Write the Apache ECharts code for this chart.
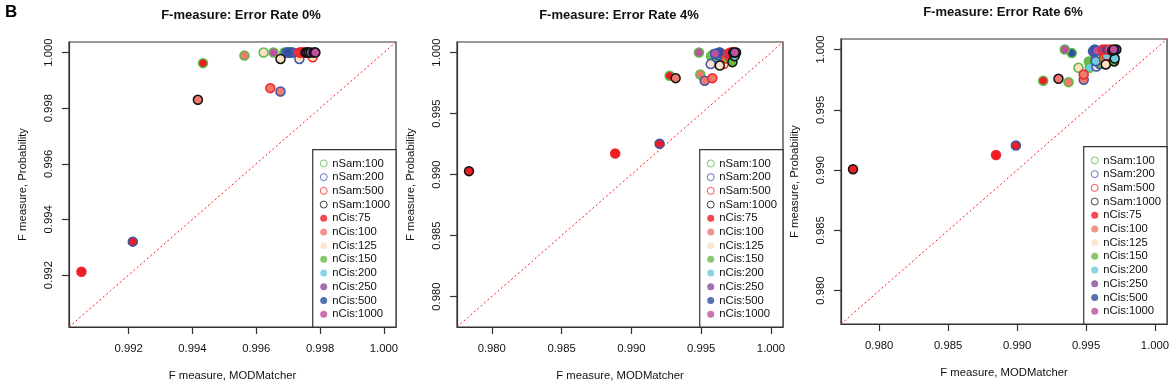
<!doctype html>
<html lang="en">
<head>
<meta charset="UTF-8">
<title>F-measure scatter</title>
<script src="https://cdn.jsdelivr.net/npm/echarts@6.0.0/dist/echarts.min.js"></script>
<style>
  html, body { margin: 0; padding: 0; background: #fff; }
  #main { width: 1169px; height: 391px; }
</style>
</head>
<body>
<div id="main"></div>
<script type="text/javascript">
var FONT = '"Liberation Sans", Arial, Helvetica, sans-serif';

// legend groups
var nSam = ['nSam:100', 'nSam:200', 'nSam:500', 'nSam:1000'];
var samColors = ['#5cb947', '#3b57a8', '#f0262b', '#111111'];
var nCis = ['nCis:75', 'nCis:100', 'nCis:125', 'nCis:150', 'nCis:200', 'nCis:250', 'nCis:500', 'nCis:1000'];
var cisColors = ['#ee1d24', '#f1786c', '#fde0c4', '#6ab945', '#6ccbe0', '#8a4c9f', '#2d4f9e', '#bf4f9f'];

// rows = nSam (100,200,500,1000), columns = nCis (75 ... 1000)
var err0X = [
    [0.99433, 0.99563, 0.99623, 0.99688, 0.99700, 0.99708, 0.99716, 0.99654],
    [0.99213, 0.99676, 0.99735, 0.99695, 0.99705, 0.99712, 0.99700, 0.99785],
    [0.99052, 0.99644, 0.99777, 0.99735, 0.99740, 0.99745, 0.99750, 0.99760],
    [0.99755, 0.99417, 0.99676, 0.99760, 0.99765, 0.99770, 0.99780, 0.99785]
];
var err0Y = [
    [0.99962, 0.99989, 1.00000, 1.00000, 1.00000, 1.00000, 1.00000, 1.00000],
    [0.99320, 0.99860, 0.99977, 1.00000, 1.00000, 1.00000, 1.00000, 1.00000],
    [0.99212, 0.99872, 0.99983, 1.00000, 1.00000, 1.00000, 1.00000, 1.00000],
    [1.00000, 0.99830, 0.99977, 1.00000, 1.00000, 1.00000, 1.00000, 1.00000]
];

var err4X = [
    [0.99274, 0.99494, 0.99570, 0.99580, 0.99585, 0.99600, 0.99620, 0.99484],
    [0.99202, 0.99525, 0.99568, 0.99610, 0.99620, 0.99630, 0.99634, 0.99600],
    [0.98884, 0.99580, 0.99662, 0.99680, 0.99700, 0.99690, 0.99710, 0.99720],
    [0.97837, 0.99317, 0.99633, 0.99724, 0.99740, 0.99730, 0.99750, 0.99740]
];
var err4Y = [
    [0.99809, 0.99820, 0.99970, 0.99960, 0.99985, 0.99990, 0.99990, 1.00000],
    [0.99252, 0.99768, 0.99905, 0.99960, 0.99980, 1.00000, 1.00000, 0.99990],
    [0.99172, 0.99790, 0.99905, 0.99950, 0.99970, 0.99990, 1.00000, 1.00000],
    [0.99028, 0.99790, 0.99893, 0.99921, 0.99970, 1.00000, 1.00000, 1.00000]
];

var err6X = [
    [0.99189, 0.99373, 0.99445, 0.99520, 0.99527, 0.99560, 0.99397, 0.99346],
    [0.98991, 0.99483, 0.99575, 0.99600, 0.99570, 0.99550, 0.99563, 0.99580],
    [0.98847, 0.99483, 0.99643, 0.99630, 0.99650, 0.99620, 0.99645, 0.99671],
    [0.97810, 0.99300, 0.99643, 0.99703, 0.99708, 0.99690, 0.99720, 0.99700]
];
var err6Y = [
    [0.99741, 0.99729, 0.99848, 0.99900, 0.99848, 0.99920, 0.99970, 1.00000],
    [0.99203, 0.99749, 0.99859, 0.99880, 0.99903, 0.99986, 1.00000, 0.99990],
    [0.99125, 0.99793, 0.99882, 0.99930, 0.99950, 1.00000, 1.00000, 1.00000],
    [0.99007, 0.99757, 0.99876, 0.99901, 0.99925, 0.99990, 1.00000, 1.00000]
];

// axis limits and tick labels
var lim0 = [0.99013, 1.00038];
var lim4 = [0.97751, 1.00086];
var lim6 = [0.97723, 1.00087];
var ticks0 = [0.992, 0.994, 0.996, 0.998, 1.000];
var ticks4 = [0.980, 0.985, 0.990, 0.995, 1.000];
var ticks6 = [0.980, 0.985, 0.990, 0.995, 1.000];

var titles = ['F-measure: Error Rate 0%', 'F-measure: Error Rate 4%', 'F-measure: Error Rate 6%'];

var panels = [
    {x: err0X, y: err0Y, lim: lim0, ticks: ticks0, left: 69, top: 42, width: 327, title: [241, 15]},
    {x: err4X, y: err4Y, lim: lim4, ticks: ticks4, left: 457, top: 42, width: 326, title: [619, 15]},
    {x: err6X, y: err6Y, lim: lim6, ticks: ticks6, left: 841, top: 39, width: 326, title: [1003, 12]}
];

function makeAxis(i, p, isY) {
    return {
        type: 'value',
        gridIndex: i,
        min: p.lim[0],
        max: p.lim[1],
        name: isY ? 'F measure, Probability' : 'F measure, MODMatcher',
        nameLocation: 'middle',
        nameGap: isY ? 41 : 43,
        nameTextStyle: {fontFamily: FONT, fontSize: 11.3, color: '#111'},
        axisLine: {show: true, onZero: false, lineStyle: {color: '#333', width: 1.2}},
        axisTick: {show: true, inside: false, length: 7, customValues: p.ticks, lineStyle: {color: '#333', width: 1.2}},
        axisLabel: {
            show: true,
            customValues: p.ticks,
            rotate: isY ? 90 : 0,
            margin: isY ? 15 : 16,
            fontFamily: FONT,
            fontSize: 11.3,
            color: '#111',
            formatter: function (v) { return v.toFixed(3); }
        },
        splitLine: {show: false},
        minorTick: {show: false}
    };
}

// legend entries: open rings for nSam, filled dots for nCis
var legendItems = [];
nSam.forEach(function (name, k) {
    legendItems.push({name: name, itemStyle: {color: '#fff', borderColor: samColors[k], borderWidth: 1}});
});
nCis.forEach(function (name, k) {
    legendItems.push({name: name, itemStyle: {color: cisColors[k], borderWidth: 0}});
});

var grids = [], xAxes = [], yAxes = [], series = [], legends = [], graphics = [];

graphics.push({
    type: 'text', x: 5, y: 4,
    style: {text: 'B', font: 'bold 17px ' + FONT, fill: '#000'}
});

panels.forEach(function (p, i) {
    grids.push({
        left: p.left, top: p.top, width: p.width, height: 285,
        show: true, borderColor: '#333', borderWidth: 1.2, backgroundColor: 'transparent',
        outerBoundsMode: 'none', containLabel: false
    });
    xAxes.push(makeAxis(i, p, false));
    yAxes.push(makeAxis(i, p, true));

    graphics.push({
        type: 'text', x: p.title[0], y: p.title[1],
        style: {text: titles[i], font: 'bold 13px ' + FONT, fill: '#111', align: 'center', verticalAlign: 'middle'}
    });

    // dotted y = x reference line
    series.push({
        type: 'line', xAxisIndex: i, yAxisIndex: i,
        data: [[p.lim[0], p.lim[0]], [p.lim[1], p.lim[1]]],
        symbol: 'none', silent: true, clip: true, z: 1,
        lineStyle: {color: '#ff1a1a', width: 1, type: [2, 2.5]}
    });

    for (var s = 0; s < nSam.length; s++) {
        var pts = [];
        for (var c = 0; c < nCis.length; c++) {
            pts.push({value: [p.x[s][c], p.y[s][c]], itemStyle: {color: cisColors[c]}});
        }
        series.push({
            type: 'scatter', xAxisIndex: i, yAxisIndex: i,
            symbol: 'circle', symbolSize: 9, silent: true, z: 3,
            itemStyle: {borderColor: samColors[s], borderWidth: 1.5, opacity: 1},
            emphasis: {disabled: true},
            data: pts
        });
    }

    legends.push({
        orient: 'vertical',
        right: 1169 - (p.left + p.width),
        bottom: 391 - (p.top + 285),
        data: legendItems,
        icon: 'circle',
        itemWidth: 7, itemHeight: 7, itemGap: 0,
        padding: [7, 6, 6, 7],
        borderColor: '#333', borderWidth: 1.2, borderRadius: 0,
        backgroundColor: '#fff',
        selectedMode: false,
        textStyle: {fontFamily: FONT, fontSize: 11.3, lineHeight: 13.7, color: '#111'}
    });
});

// series that only feed the legends
nSam.forEach(function (name, k) {
    series.push({name: name, type: 'scatter', data: [], itemStyle: {color: '#fff', borderColor: samColors[k], borderWidth: 1}});
});
nCis.forEach(function (name, k) {
    series.push({name: name, type: 'scatter', data: [], itemStyle: {color: cisColors[k], borderWidth: 0}});
});

var myChart = echarts.init(document.getElementById('main'), null, {renderer: 'canvas'});
var option = {
    animation: false,
    backgroundColor: '#fff',
    textStyle: {fontFamily: FONT},
    grid: grids,
    xAxis: xAxes,
    yAxis: yAxes,
    legend: legends,
    graphic: graphics,
    series: series
};
myChart.setOption(option);
</script>
</body>
</html>
